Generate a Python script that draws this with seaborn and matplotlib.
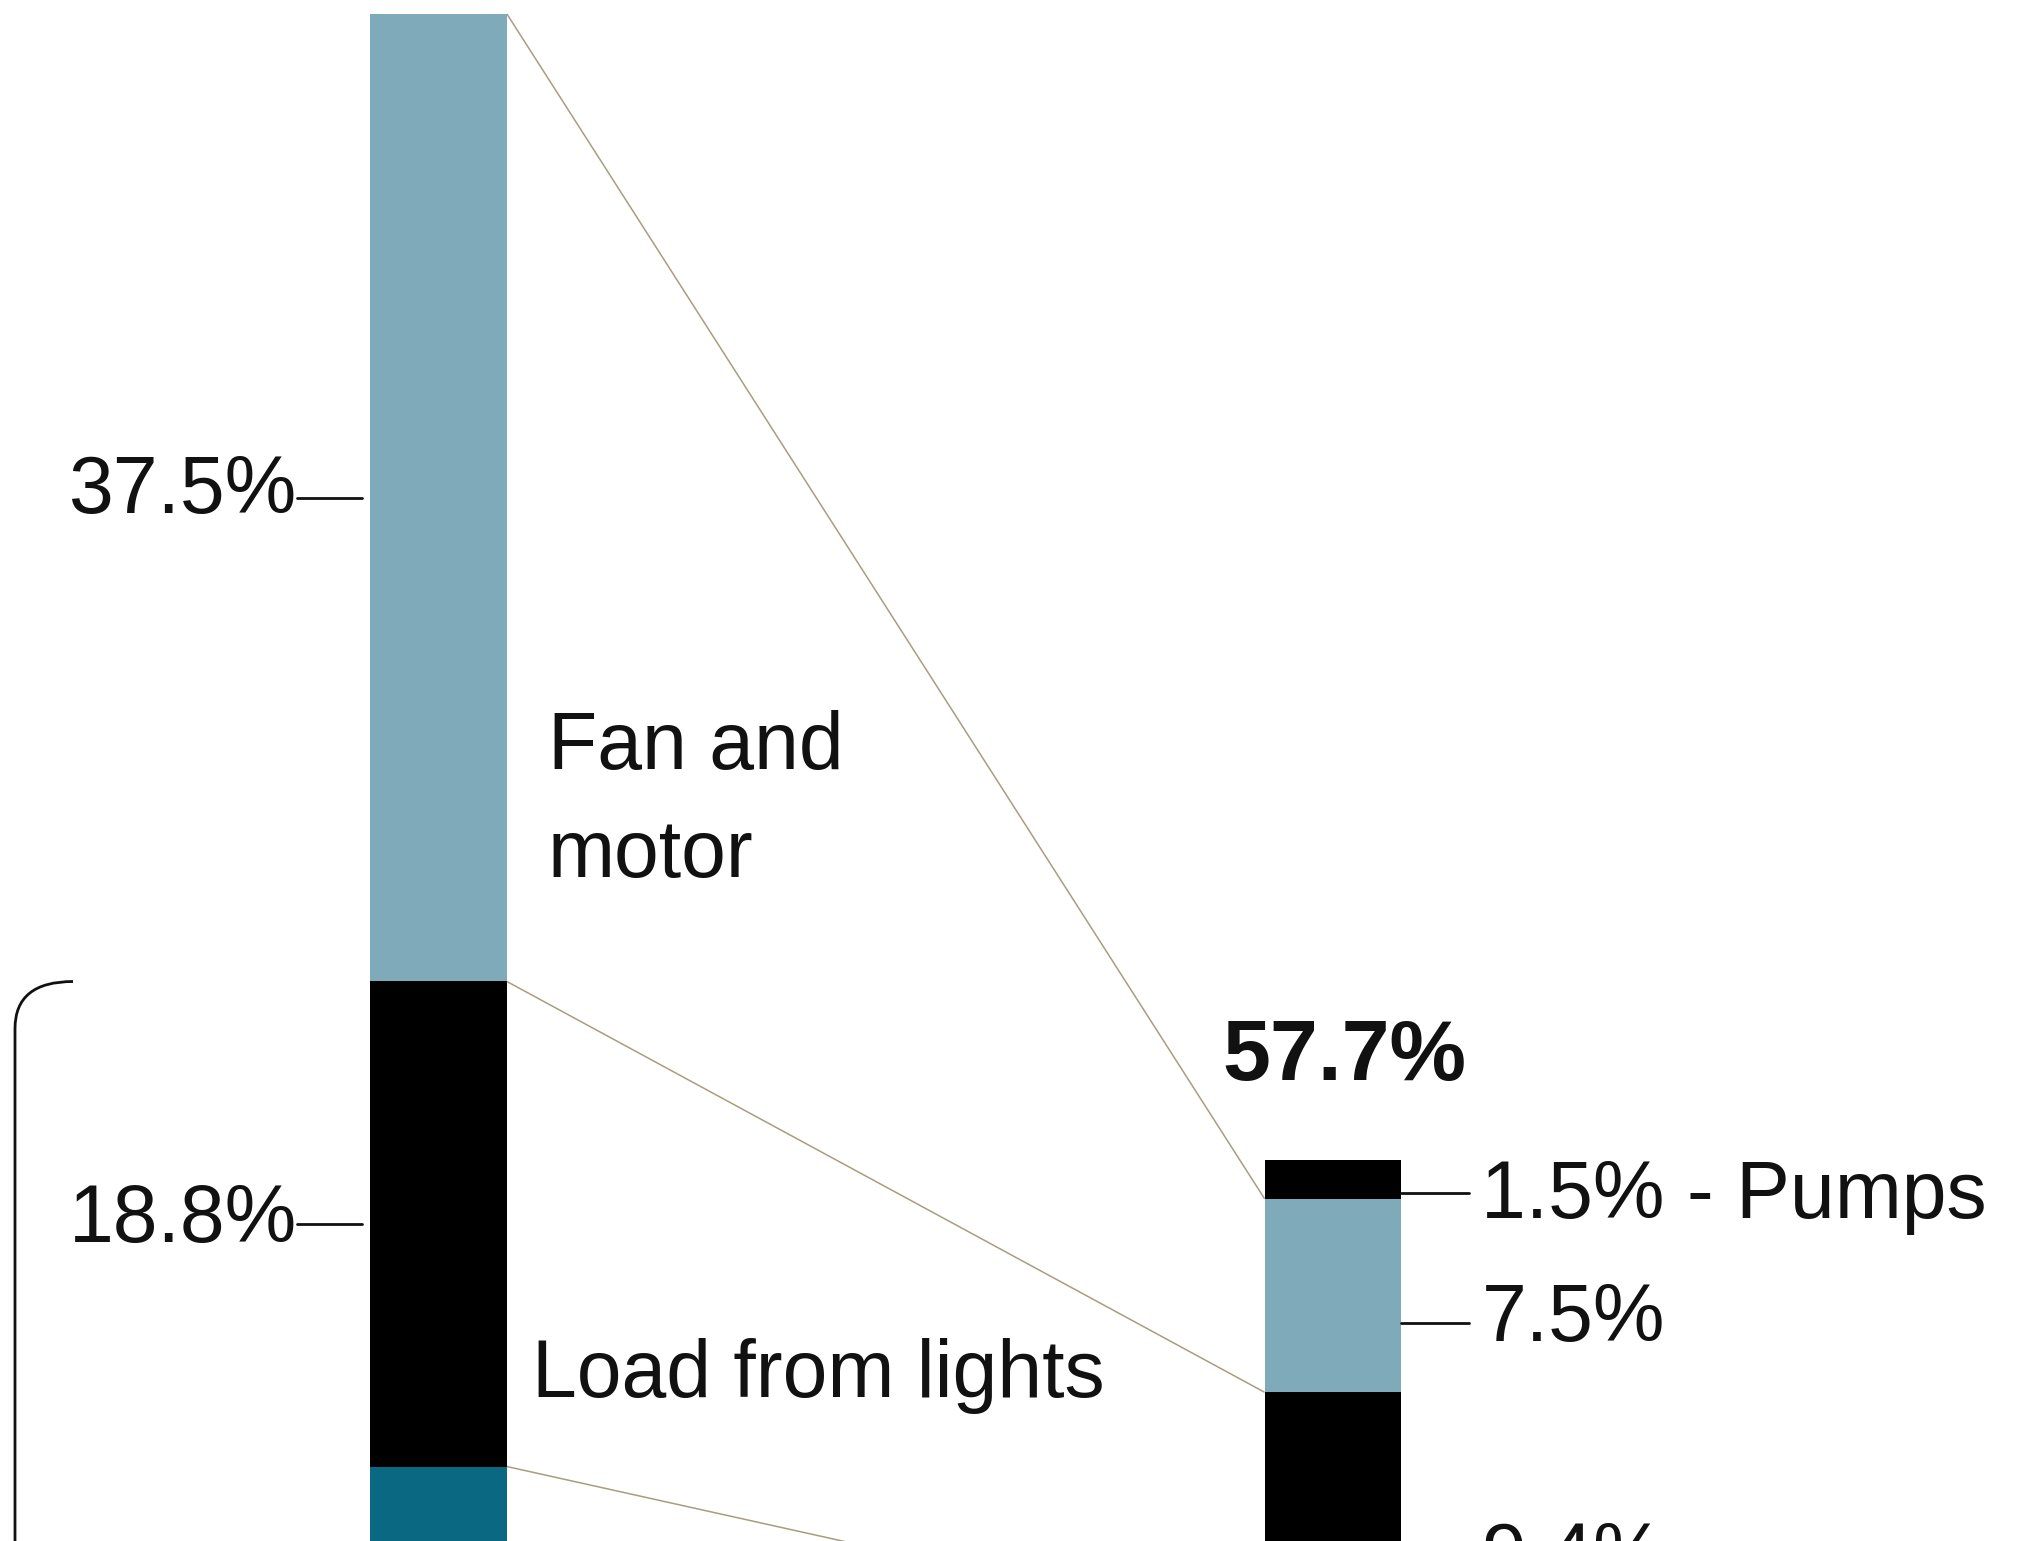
import matplotlib
matplotlib.use("Agg")
import matplotlib.pyplot as plt
from matplotlib.path import Path
from matplotlib.patches import PathPatch
import pandas as pd
import seaborn as sns

# ---------------------------------------------------------------- data
SIDES = ["total", "breakdown"]

# left column, top to bottom (percent)
left_names = ["Fan and\nmotor", "Load from lights", ""]
left_values = [37.5, 18.8, 43.7]
left_value_text = ["37.5%", "18.8%", ""]

# right column, top to bottom (percent)
right_names = ["Pumps", "", "", ""]
right_values = [1.5, 7.5, 9.4, 39.3]
right_value_text = ["1.5%", "7.5%", "9.4%", ""]
right_total_text = "57.7%"

# ---------------------------------------------------------------- style
LIGHT = "#7eaab9"
BLACK = "#000000"
TEAL = "#0b6882"
LINK = "#a89e7e"
left_colors = [LIGHT, BLACK, TEAL]
right_colors = [BLACK, LIGHT, BLACK, TEAL]

sns.set_style("white")
plt.rcParams["font.family"] = ["Liberation Sans", "DejaVu Sans"]
FS = 58

W_PX, H_PX = 2017, 1541
X0_PX, X_UNIT_PX = 438.5, 894.5      # pixel position of first column, spacing of columns
Y0_PX, Y_UNIT_PX = 14.0, 25.8        # pixel of 0 %, pixels per percent
BAR_WIDTH = 0.153
RIGHT_OFFSET = 44.42                 # vertical start of the right column (percent units)

fig = plt.figure(figsize=(W_PX / 100, H_PX / 100), dpi=100)
ax = fig.add_axes([0, 0, 1, 1])


def px_x(px):
    return px / X_UNIT_PX


def stack(side, values, colors, offset):
    bounds = []
    start = offset
    for v, c in zip(values, colors):
        df = pd.DataFrame({"side": [side], "value": [v]})
        sns.barplot(data=df, x="side", y="value", order=SIDES, width=BAR_WIDTH,
                    color=c, saturation=1, errorbar=None, bottom=start,
                    linewidth=0, ax=ax)
        bounds.append((start, start + v))
        start += v
    return bounds


left_bounds = stack("total", left_values, left_colors, 0.0)
right_bounds = stack("breakdown", right_values, right_colors, RIGHT_OFFSET)

half = BAR_WIDTH / 2
lx_left, lx_right = 0 - half, 0 + half
rx_left, rx_right = 1 - half, 1 + half

# connectors from the left column to the matching parts of the right column
for i in range(3):
    ax.plot([lx_right, rx_left], [left_bounds[i][0], right_bounds[i + 1][0]],
            color=LINK, lw=1.1, solid_capstyle="butt", zorder=1)

# value labels with leader ticks on the left column
left_drop = [15, 18]
for (a, b), txt, drop in zip(left_bounds, left_value_text, left_drop):
    yc = (a + b) / 2
    x_end = lx_left - px_x(8)
    x_start = lx_left - px_x(73)
    ax.plot([x_start, x_end], [yc, yc], color="#111111", lw=2.0)
    ax.annotate(txt, xy=(x_start, yc), xytext=(0, -drop), textcoords="offset pixels",
                ha="right", va="baseline", fontsize=FS, color="#111111",
                annotation_clip=False)

# value labels with leader ticks on the right column
right_nudge = [0.53, 1.07, 1.8]
right_drop = [25, 18, 20]
for k in range(3):
    a, b = right_bounds[k]
    yc = (a + b) / 2 + right_nudge[k]
    x_end = rx_right + px_x(68)
    ax.plot([rx_right, x_end], [yc, yc], color="#111111", lw=2.0)
    txt = right_value_text[k]
    if right_names[k]:
        txt = f"{txt} - {right_names[k]}"
    ax.annotate(txt, xy=(x_end, yc), xytext=(12, -right_drop[k]), textcoords="offset pixels",
                ha="left", va="baseline", fontsize=FS, color="#111111",
                annotation_clip=False)

# total above the right column
ax.annotate(right_total_text, xy=(1, RIGHT_OFFSET), xytext=(11, 80),
            textcoords="offset pixels", ha="center", va="baseline",
            fontsize=FS + 4, fontweight="bold", color="#111111",
            annotation_clip=False)

# category names beside the left column
name_pos = [(41, [212, 104]), (25, [70])]
for (a, b), name, (dx, rises) in zip(left_bounds, left_names, name_pos):
    for line, rise in zip(name.split("\n"), rises):
        ax.annotate(line, xy=(lx_right, b), xytext=(dx, rise), textcoords="offset pixels",
                    ha="left", va="baseline", fontsize=FS, color="#111111",
                    annotation_clip=False)

# bracket spanning the lower part of the left column
bx = -X0_PX / X_UNIT_PX + px_x(15)
btop = left_bounds[1][0]
bend = 47 / Y_UNIT_PX
bracket = Path([(bx, 80), (bx, btop + bend), (bx, btop), (bx + px_x(58), btop)],
               [Path.MOVETO, Path.LINETO, Path.CURVE3, Path.CURVE3])
ax.add_patch(PathPatch(bracket, facecolor="none", edgecolor="#111111", lw=2.0))

ax.set_xlim(-X0_PX / X_UNIT_PX, (W_PX - X0_PX) / X_UNIT_PX)
ax.set_ylim((H_PX - Y0_PX) / Y_UNIT_PX, -Y0_PX / Y_UNIT_PX)
ax.axis("off")

fig.savefig("out.png", dpi=100, facecolor="white")
